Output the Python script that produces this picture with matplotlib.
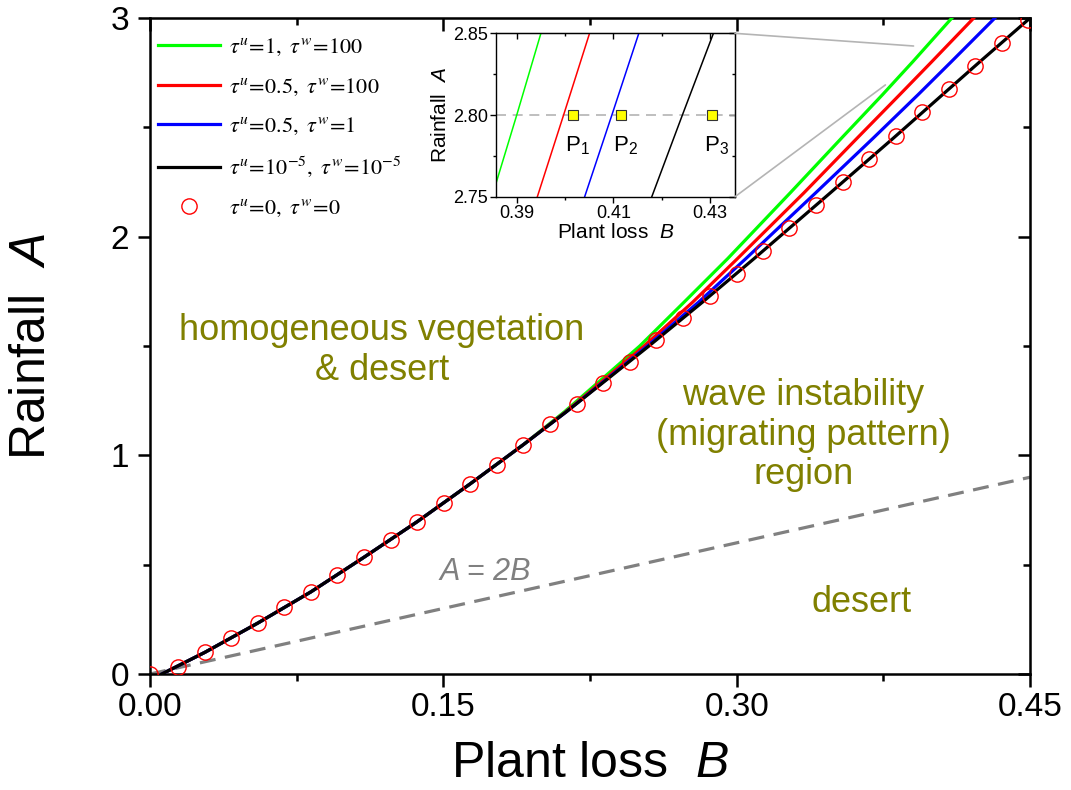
#!/usr/bin/env python3
import matplotlib
matplotlib.use('Agg')
import matplotlib.pyplot as plt
from matplotlib.patches import ConnectionPatch
from matplotlib.ticker import MultipleLocator, FixedLocator, FormatStrFormatter

# tau^u = 0, tau^w = 0 (circles)
circ_B = [0.0, 0.0145, 0.0280, 0.0416, 0.0551, 0.0687, 0.0823, 0.0958, 0.1094,
          0.1231, 0.1365, 0.1502, 0.1636, 0.1773, 0.1909, 0.2045, 0.2182, 0.2318,
          0.2455, 0.2587, 0.2724, 0.2864, 0.3000, 0.3133, 0.3269, 0.3404, 0.3542,
          0.3677, 0.3815, 0.3949, 0.4084, 0.4220, 0.4357, 0.4491]
circ_A = [0.0, 0.033, 0.099, 0.163, 0.233, 0.305, 0.376, 0.454, 0.534,
          0.613, 0.696, 0.781, 0.869, 0.957, 1.049, 1.143, 1.235, 1.329,
          1.428, 1.527, 1.627, 1.729, 1.828, 1.936, 2.038, 2.143, 2.249,
          2.355, 2.462, 2.569, 2.674, 2.782, 2.887, 2.991]

# shared lower branch (all curves coincide there)
low_B = [0.006, 0.0280, 0.0551, 0.0823, 0.1094, 0.1365, 0.1636, 0.1909]
low_A = [0.0, 0.099, 0.233, 0.376, 0.534, 0.696, 0.869, 1.049]

up_A = [1.2, 1.5, 1.7, 1.9, 2.2, 2.45, 2.65, 2.8, 3.0]
black_B = [0.2130, 0.2551, 0.2824, 0.3089, 0.3478, 0.3800, 0.4053, 0.4243, 0.4500]
green_B = [0.2120, 0.2504, 0.2730, 0.2954, 0.3273, 0.3535, 0.3746, 0.3900, 0.4100]
red_B = [0.2127, 0.2526, 0.2774, 0.3004, 0.3343, 0.3615, 0.3834, 0.3997, 0.4212]
blue_B = [0.2130, 0.2543, 0.2804, 0.3047, 0.3403, 0.3697, 0.3928, 0.4097, 0.4320]

# existence line A = 2B
line_B = [0.0, 0.45]
line_A = [0.0, 0.90]

# inset points P1..P3
p_B = [0.4017, 0.4116, 0.4305]
p_A = [2.80, 2.80, 2.80]
p_names = ['1', '2', '3']

labels = [r'$\tau^{u}\!=\!1,\ \tau^{w}\!=\!100$',
          r'$\tau^{u}\!=\!0.5,\ \tau^{w}\!=\!100$',
          r'$\tau^{u}\!=\!0.5,\ \tau^{w}\!=\!1$',
          r'$\tau^{u}\!=\!10^{-5},\ \tau^{w}\!=\!10^{-5}$',
          r'$\tau^{u}\!=\!0,\ \tau^{w}\!=\!0$']

olive = '#808000'


def style_axis(ax, ticklen, minlen, lw, fs):
    ax.tick_params(which='major', direction='out', length=ticklen, width=lw, labelsize=fs)
    ax.tick_params(which='minor', direction='out', length=minlen, width=lw)
    for s in ax.spines.values():
        s.set_linewidth(lw)
    top = ax.secondary_xaxis('top')
    right = ax.secondary_yaxis('right')
    for sec in (top, right):
        sec.tick_params(which='major', direction='in', length=ticklen, width=lw)
        sec.tick_params(which='minor', direction='in', length=minlen, width=lw)
        sec.tick_params(labeltop=False, labelright=False, labelbottom=False, labelleft=False)
    return top, right


def main():
    plt.rcParams['font.family'] = ['Liberation Sans', 'DejaVu Sans']
    plt.rcParams['mathtext.fontset'] = 'custom'
    plt.rcParams['mathtext.rm'] = 'Liberation Sans'
    plt.rcParams['mathtext.it'] = 'Liberation Sans:italic'

    fig = plt.figure(figsize=(10.71, 7.90), dpi=100)
    ax = fig.add_axes([0.1401, 0.1468, 0.8217, 0.8304])

    curves = [(green_B, '#00ff00'), (red_B, '#ff0000'), (blue_B, '#0000ff'), (black_B, 'black')]
    for i, (bb, col) in enumerate(curves):
        ax.plot(low_B + bb, low_A + up_A, color=col, lw=2.3, label=labels[i], zorder=3 + i)
    ax.plot(circ_B, circ_A, 'o', ms=11, mfc='none', mec='#ff0000', mew=1.0,
            label=labels[4], zorder=8)
    ax.plot(line_B, line_A, color='#808080', lw=2.3, dashes=(5, 3), zorder=2)

    ax.set_xlim(0, 0.45)
    ax.set_ylim(0, 3)
    ax.xaxis.set_major_locator(MultipleLocator(0.15))
    ax.xaxis.set_minor_locator(MultipleLocator(0.075))
    ax.xaxis.set_major_formatter(FormatStrFormatter('%.2f'))
    ax.yaxis.set_major_locator(MultipleLocator(1))
    ax.yaxis.set_minor_locator(MultipleLocator(0.5))
    top, right = style_axis(ax, 9, 5, 1.8, 24)
    top.xaxis.set_major_locator(MultipleLocator(0.15))
    top.xaxis.set_minor_locator(MultipleLocator(0.075))
    right.yaxis.set_major_locator(MultipleLocator(1))
    right.yaxis.set_minor_locator(MultipleLocator(0.5))
    ax.tick_params(axis='x', pad=4)
    ax.tick_params(axis='y', pad=6)

    ax.set_xlabel(r'Plant loss  $B$', fontsize=36, labelpad=13)
    ax.set_ylabel(r'Rainfall  $A$', fontsize=36, labelpad=40)

    leg = ax.legend(loc='upper left', bbox_to_anchor=(-0.004, 0.989), frameon=False,
                    fontsize=16, handlelength=2.8, handletextpad=0.4,
                    labelspacing=0.8, borderaxespad=0.2, borderpad=0.3)
    for t in leg.get_texts():
        t.set_math_fontfamily('stix')

    ax.text(0.1186, 1.48, 'homogeneous vegetation\n& desert', color=olive,
            fontsize=26, ha='center', va='center', multialignment='center',
            linespacing=1.2)
    ax.text(0.334, 1.093, 'wave instability\n(migrating pattern)\nregion', color=olive,
            fontsize=26, ha='center', va='center', multialignment='center',
            linespacing=1.15)
    ax.text(0.364, 0.325, 'desert', color=olive, fontsize=26, ha='center', va='center')
    ax.text(0.1713, 0.466, 'A = 2B', color='#808080', fontsize=22, style='italic',
            ha='center', va='center')

    # inset
    ins = fig.add_axes([0.4631, 0.751, 0.2232, 0.2068])
    for bb, col in curves:
        ins.plot(low_B + bb, low_A + up_A, color=col, lw=1.1)
    ins.axhline(2.8, color='#b4b4b4', lw=1.2, dashes=(6, 4), zorder=1)
    ins.plot(p_B, p_A, 's', ms=7.5, mfc='#ffff00', mec='#333333', mew=0.8, zorder=5)
    for b, n in zip(p_B, p_names):
        ins.annotate(r'$\mathrm{P}_{' + n + '}$', (b, 2.8), xytext=(-6, -14),
                     textcoords='offset points', fontsize=16, ha='left', va='top')
    ins.set_xlim(0.3857, 0.4352)
    ins.set_ylim(2.75, 2.85)
    ins.xaxis.set_major_locator(FixedLocator([0.39, 0.41, 0.43]))
    ins.xaxis.set_minor_locator(FixedLocator([0.40, 0.42]))
    ins.yaxis.set_major_locator(MultipleLocator(0.05))
    ins.yaxis.set_minor_locator(MultipleLocator(0.025))
    ins.xaxis.set_major_formatter(FormatStrFormatter('%.2f'))
    ins.yaxis.set_major_formatter(FormatStrFormatter('%.2f'))
    itop, iright = style_axis(ins, 4, 2.5, 1.0, 13)
    itop.xaxis.set_major_locator(FixedLocator([0.39, 0.41, 0.43]))
    itop.xaxis.set_minor_locator(FixedLocator([0.40, 0.42]))
    iright.yaxis.set_major_locator(MultipleLocator(0.05))
    iright.yaxis.set_minor_locator(MultipleLocator(0.025))
    ins.tick_params(pad=2)
    ins.set_xlabel(r'Plant loss  $B$', fontsize=15, labelpad=1)
    ins.set_ylabel(r'Rainfall  $A$', fontsize=15, labelpad=2)

    # zoom connectors
    for corner, target in [((1, 1), (0.3904, 2.872)), ((1, 0), (0.376, 2.694))]:
        con = ConnectionPatch(xyA=corner, coordsA=ins.transAxes, xyB=target,
                              coordsB=ax.transData, color='#b4b4b4', lw=1.2)
        fig.add_artist(con)

    fig.savefig('out.png', dpi=100)


if __name__ == '__main__':
    main()
